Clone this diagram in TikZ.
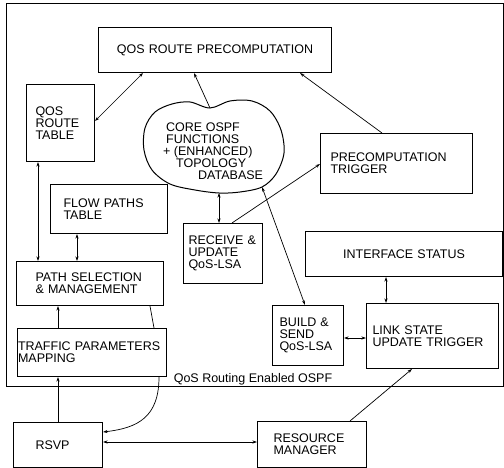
\documentclass[tikz,border=0pt]{standalone}
\usepackage{fontspec}
\setmainfont{Liberation Sans}
\usetikzlibrary{arrows.meta,calc}
\begin{document}
\begin{tikzpicture}[x=1pt,y=-1pt,
  txt/.style={font=\fontsize{12.5}{12}\selectfont},
  box/.style={txt, draw, line width=1pt, rectangle, anchor=north west, align=left, inner ysep=0pt},
  cbox/.style={txt, draw, line width=1pt, rectangle, anchor=north west, align=center, inner sep=0pt},
  arr/.style={line width=0.7pt, -{Stealth[length=4.5pt,width=3pt]}},
  darr/.style={line width=0.7pt, {Stealth[length=4.5pt,width=3pt]}-{Stealth[length=4.5pt,width=3pt]}},
  ln/.style={line width=0.7pt}]
\useasboundingbox (0,0) rectangle (504,468);
% frame
\draw[line width=1pt] (6,4) rectangle (503,386);
\node[txt, anchor=base, inner sep=0pt] (lbl) at (253,382.5) {QoS Routing Enabled OSPF};
% boxes
\node[cbox, minimum width=233pt, minimum height=45pt, text width=233pt] (pre) at (98,27) {QOS ROUTE PRECOMPUTATION};
\node[box, minimum height=77pt, inner xsep=9pt, text width=50pt] (tab) at (26,84) {QOS\\ROUTE\\TABLE};
\node[box, minimum height=49pt, inner xsep=13pt, text width=91pt] (flow) at (50,184) {FLOW PATHS\\TABLE};
\node[box, minimum height=44pt, inner xsep=19pt, text width=109pt] (path) at (16,261) {PATH SELECTION\\\&~MANAGEMENT};
\node[box, minimum height=48pt, inner xsep=0.5pt, text width=148pt] (traf) at (17,328) {TRAFFIC PARAMETERS\\MAPPING};
\node[box, minimum height=45pt, inner xsep=22pt, text width=45pt] (rsvp) at (13,422) {RSVP};
\node[box, minimum height=46pt, inner xsep=16pt, text width=77pt] (res) at (257,421) {RESOURCE\\MANAGER};
\node[box, minimum height=60pt, inner xsep=5pt, text width=69pt] (recv) at (183,223) {RECEIVE \&\\UPDATE\\QoS-LSA};
\node[box, minimum height=60pt, inner xsep=10pt, text width=132pt] (trig) at (320,133) {PRECOMPUTATION\\TRIGGER};
\node[cbox, minimum width=197pt, minimum height=45pt, text width=197pt] (intf) at (305,231) {INTERFACE STATUS};
\node[box, minimum height=60pt, inner xsep=7pt, text width=57pt] (build) at (272,305) {BUILD \&\\SEND\\QoS-LSA};
\node[box, minimum height=65pt, inner xsep=6pt, text width=120pt] (link) at (366,303) {LINK STATE\\UPDATE TRIGGER};
% cloud
\coordinate (ctop) at (210,108);
\coordinate (cbr) at (262,187);
\coordinate (cbot) at (219,193);
\draw[line width=1pt] plot[smooth cycle, tension=0.55] coordinates {
  (210,108) (230,101) (252,101) (270,111) (281,130) (284,153) (276,174)
  (262,187) (240,192) (219,193) (195,190) (170,184) (152,170) (144,150)
  (145,128) (155,112) (172,104) (190,102)};
\node[txt, anchor=north west, align=left, inner sep=0pt] (core) at (163,123)
  {\hspace*{3pt}CORE OSPF\\\hspace*{3pt}FUNCTIONS\\+ (ENHANCED)\\\hspace*{13pt}TOPOLOGY\\\hspace*{35pt}DATABASE};
% connectors
\draw[darr] ($(pre.south west)+(45,0)$) -- ($(tab.north east)+(0,37)$);
\draw[arr] (ctop) -- ($(pre.south west)+(96,0)$);
\draw[arr] ($(trig.north west)+(62,0)$) -- ($(pre.south west)+(202,0)$);
\draw[arr] ($(recv.north west)+(49,0)$) -- ($(trig.north west)+(0,31)$);
\draw[darr] (cbot) -- ($(recv.north west)+(36,0)$);
\draw[darr] (cbr) -- ($(build.north west)+(33,0)$);
\draw[darr] ($(intf.south west)+(81,0)$) -- ($(link.north west)+(20,0)$);
\draw[darr] ($(build.north east)+(0,33)$) -- ($(link.north west)+(0,35)$);
\draw[arr] ($(res.north west)+(93,0)$) -- ($(link.south west)+(46,0)$);
\draw[darr] ($(rsvp.north east)+(0,20)$) -- ($(res.north west)+(0,21)$);
\draw[arr] ($(rsvp.north west)+(45,0)$) -- ($(traf.south west)+(41,0)$);
\draw[arr] ($(traf.south west)+(142,0)$) .. controls +(0,40) and +(35,-4) .. ($(rsvp.north east)+(0,10)$);
\draw[arr] ($(traf.north west)+(41,0)$) -- ($(path.south west)+(42,0)$);
\draw[ln] ($(path.south west)+(134,0)$) -- ($(traf.north west)+(137,0)$);
\draw[darr] ($(tab.south west)+(12,0)$) -- ($(path.north west)+(22,0)$);
\draw[darr] ($(flow.south west)+(27,0)$) -- ($(path.north west)+(61,0)$);
\end{tikzpicture}
\end{document}
